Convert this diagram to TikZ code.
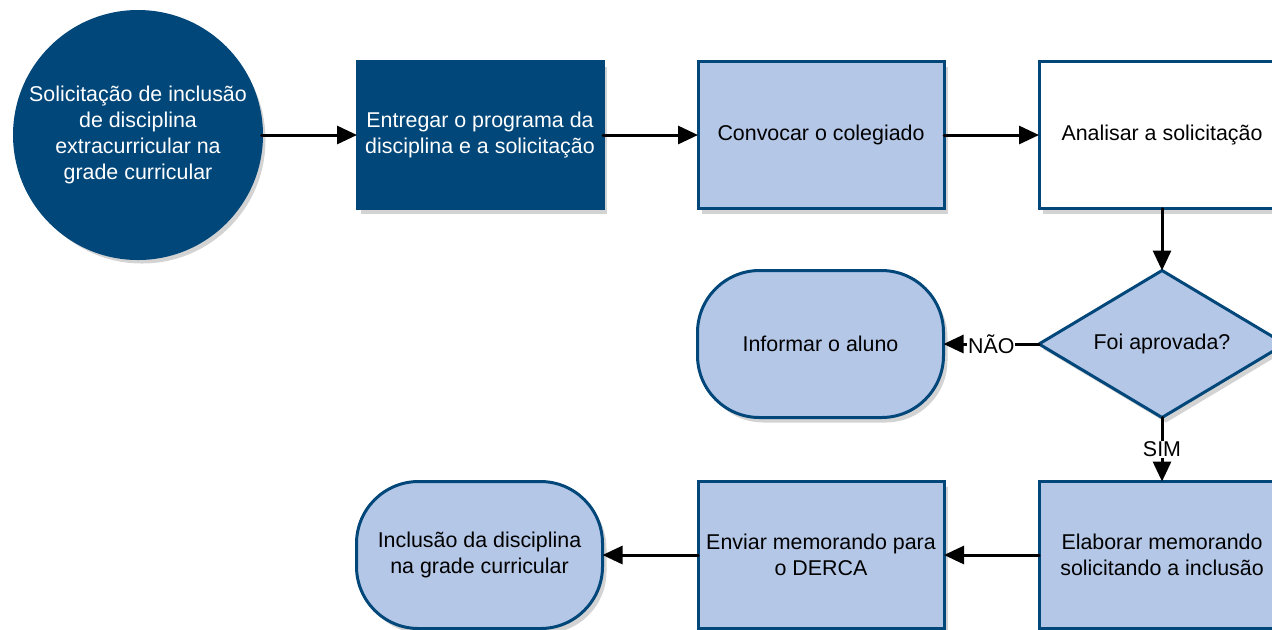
\documentclass[tikz,border=0pt]{standalone}
\usepackage{fontspec}
\setmainfont{Liberation Sans}
\usepackage{tikz}
\usetikzlibrary{arrows.meta, positioning, shapes.geometric, shadows}

\definecolor{azulescuro}{HTML}{02477A}
\definecolor{azulclaro}{HTML}{B4C7E7}

\begin{document}
\begin{tikzpicture}[
    x=0.5pt, y=-0.5pt,
    every node/.style={
        font=\fontsize{10.7}{13}\selectfont, align=center, inner sep=0pt, outer sep=0pt
    },
    sombra/.style={drop shadow={shadow xshift=2pt, shadow yshift=-2.5pt, opacity=0.35}},
    bloco/.style={draw=azulescuro, line width=1.5pt, minimum width=123pt, minimum height=73.5pt, sombra},
    processo/.style={bloco, rectangle, fill=azulclaro},
    escuro/.style={bloco, rectangle, fill=azulescuro, text=white},
    branco/.style={bloco, rectangle, fill=white},
    terminal/.style={bloco, rectangle, rounded corners=31pt, fill=azulclaro},
    decisao/.style={bloco, diamond, aspect=1.67, fill=azulclaro},
    inicio/.style={draw=azulescuro, line width=1.5pt, circle, minimum size=123.5pt, fill=azulescuro, text=white, sombra},
    seta/.style={-{Triangle[length=10pt, width=9pt]}, line width=1.5pt, line cap=round},
    rotulo/.style={fill=white, inner sep=0.5pt},
]
\clip (0,0) rectangle (1272,629);

% Linha 1
\node[inicio] (solicitacao) at (138,135) {Solicitação de inclusão\\de disciplina\\extracurricular na\\grade curricular};
\node[escuro, right=47.75pt of solicitacao] (entregar) {Entregar o programa da\\disciplina e a solicitação};
\node[processo, right=47.5pt of entregar] (convocar) {Convocar o colegiado};
\node[branco, right=47.5pt of convocar] (analisar) {Analisar a solicitação};

% Linha 2: decisao
\node[decisao, below=31pt of analisar] (aprovada) {Foi aprovada?};
\node[terminal, left=47.75pt of aprovada] (informar) {Informar o aluno};

% Linha 3
\node[processo, below=32pt of aprovada] (elaborar) {Elaborar memorando\\solicitando a inclusão};
\node[processo, left=47.5pt of elaborar] (enviar) {Enviar memorando para\\o DERCA};
\node[terminal, left=47.75pt of enviar] (inclusao) {Inclusão da disciplina\\na grade curricular};

% Setas
\draw[seta] (solicitacao) -- (entregar);
\draw[seta] (entregar) -- (convocar);
\draw[seta] (convocar) -- (analisar);
\draw[seta] (analisar) -- (aprovada);
\draw[seta] (aprovada) -- node[rotulo] {NÃO} (informar);
\draw[seta] (aprovada) -- node[rotulo] {SIM} (elaborar);
\draw[seta] (elaborar) -- (enviar);
\draw[seta] (enviar) -- (inclusao);
\end{tikzpicture}
\end{document}
